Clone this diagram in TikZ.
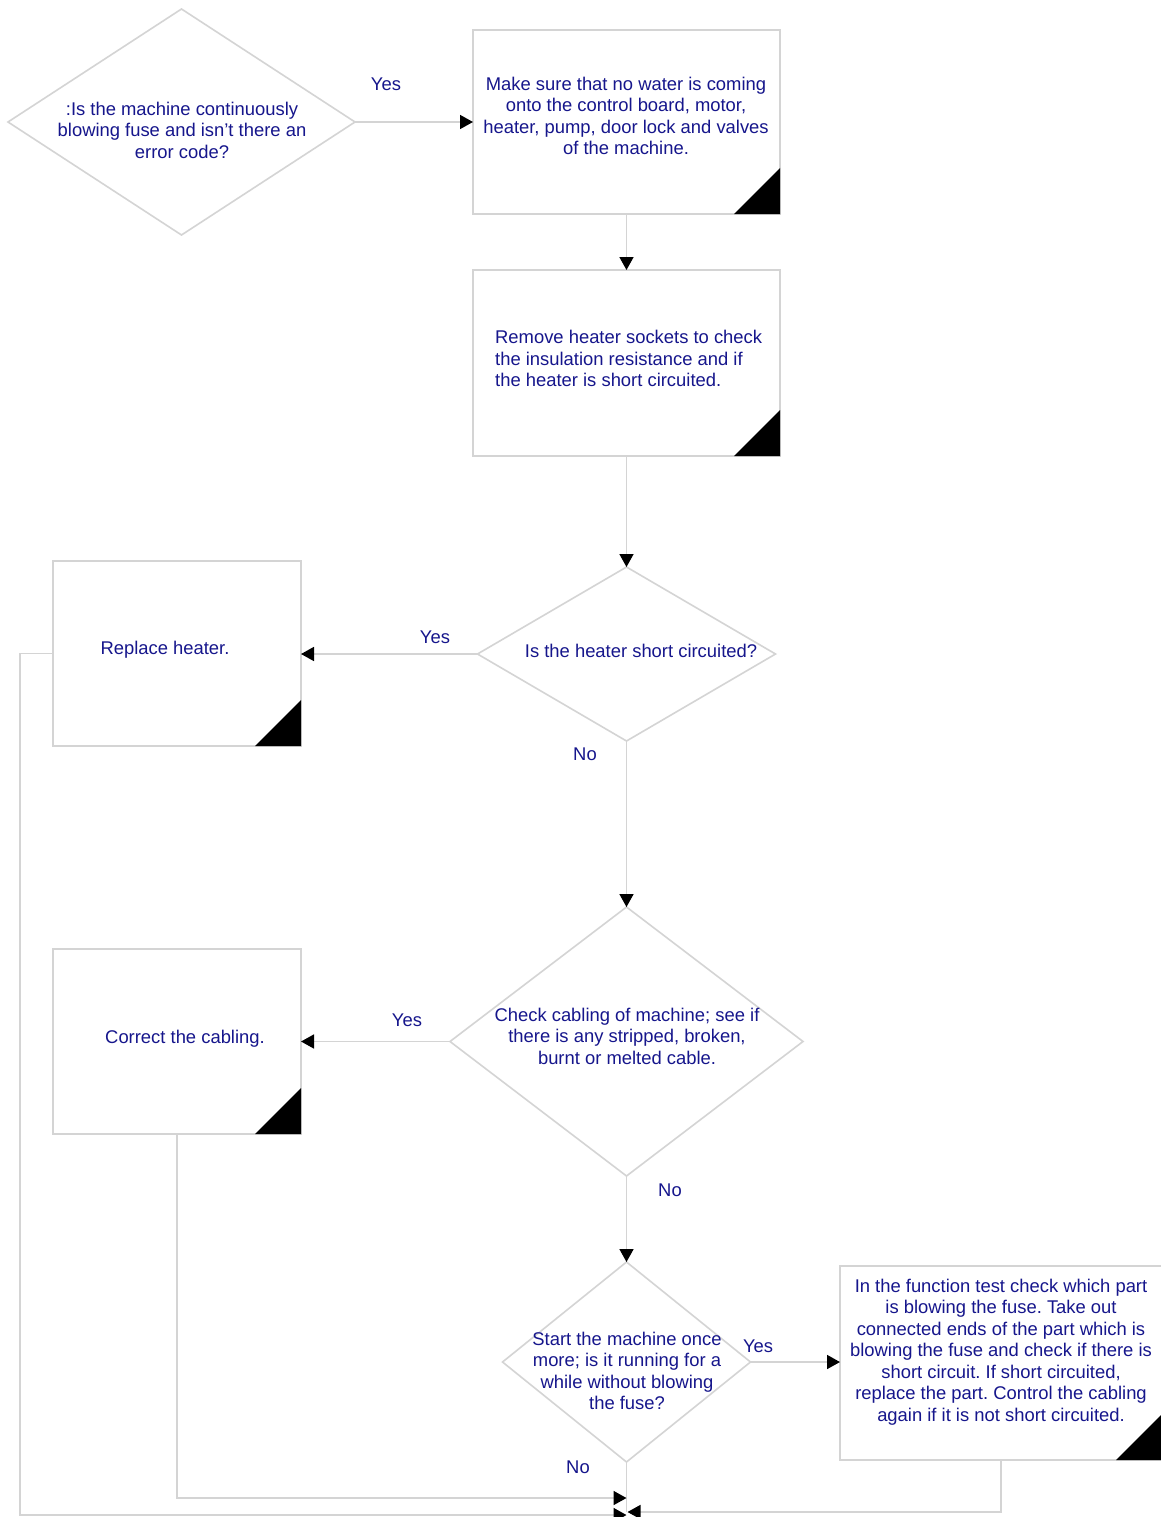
\documentclass[tikz,border=0pt]{standalone}
\usepackage{fontspec}
\setmainfont{Liberation Sans}
\usetikzlibrary{shapes.geometric,arrows.meta}
\definecolor{linegray}{RGB}{212,212,212}
\definecolor{textnavy}{RGB}{22,22,140}
\frenchspacing
\begin{document}
\begin{tikzpicture}[x=1pt,y=-1pt,
  flowline/.style={draw=linegray, line width=1.6pt},
  arr/.style={flowline, -{Triangle[length=13pt,width=14pt,color=black]}},
  stepbox/.style={flowline, rectangle, inner sep=0pt, outer sep=0pt},
  decision/.style={flowline, diamond, inner sep=0pt, outer sep=0pt},
  txt/.style={text=textnavy, font=\fontsize{18.4}{21.5}\selectfont, inner sep=0pt, align=center},
  corner/.style={fill=black}]
\useasboundingbox (0,0) rectangle (1160,1517);
\fill[white] (0,0) rectangle (1160,1517);

% ---- shapes ----
\node[decision, minimum width=347pt, minimum height=226pt] (d1) at (181.5,122) {};
\node[stepbox, minimum width=307pt, minimum height=184pt] (b1) at (626.5,122) {};
\node[stepbox, minimum width=307pt, minimum height=186pt] (b2) at (626.5,363) {};
\node[decision, minimum width=298pt, minimum height=174pt] (d2) at (626.5,654) {};
\node[stepbox, minimum width=248pt, minimum height=185pt] (b3) at (177,653.5) {};
\node[decision, minimum width=353pt, minimum height=269pt] (d3) at (626.5,1041.5) {};
\node[stepbox, minimum width=248pt, minimum height=185pt] (b4) at (177,1041.5) {};
\node[decision, minimum width=248pt, minimum height=200pt] (d4) at (626.5,1362) {};
\node[stepbox, minimum width=322pt, minimum height=194pt] (b5) at (1001,1363) {};

% ---- corner marks ----
\foreach \b in {b1,b2,b3,b4,b5}
  \fill[corner] (\b.south east) -- ++(-46,0) -- ++(46,-46) -- cycle;

% ---- texts ----
\node[txt] (t1) at (182,130) {:Is the machine continuously\\blowing fuse and isn’t there an\\error code?};
\node[txt] (t2) at (626,116) {Make sure that no water is coming\\onto the control board, motor,\\heater, pump, door lock and valves\\of the machine.};
\node[txt, align=left, anchor=west] (t3) at (495,358.5) {Remove heater sockets to check\\the insulation resistance and if\\the heater is short circuited.};
\node[txt] (t4) at (641,651) {Is the heater short circuited?};
\node[txt] (t5) at (165,650) {Replace heater.};
\node[txt] (t6) at (627,1036) {Check cabling of machine; see if\\there is any stripped, broken,\\burnt or melted cable.};
\node[txt] (t7) at (185,1039) {Correct the cabling.};
\node[txt] (t8) at (627,1371) {Start the machine once\\more; is it running for a\\while without blowing\\the fuse?};
\node[txt] (t9) at (1001,1352) {In the function test check which part\\is blowing the fuse. Take out\\connected ends of the part which is\\blowing the fuse and check if there is\\short circuit. If short circuited,\\replace the part. Control the cabling\\again if it is not short circuited.};

% ---- branch labels ----
\node[txt] (y1) at (386,84) {Yes};
\node[txt] (y2) at (435,637) {Yes};
\node[txt] (n2) at (585,754) {No};
\node[txt] (y3) at (407,1020) {Yes};
\node[txt] (n3) at (670,1190) {No};
\node[txt] (y4) at (758,1346) {Yes};
\node[txt] (n4) at (578,1467) {No};

% ---- connectors ----
\draw[arr] (d1.east) -- (d1.east -| b1.west);
\draw[arr] (b1.south) -- (b2.north);
\draw[arr] (b2.south) -- (d2.north);
\draw[arr] (d2.west) -- (d2.west -| b3.east);
\draw[arr] (d2.south) -- (d3.north);
\draw[arr] (d3.west) -- (d3.west -| b4.east);
\draw[arr] (d3.south) -- (d4.north);
\draw[arr] (d4.east) -- (d4.east -| b5.west);

% ---- returns to the common exit ----
\coordinate (exitA) at (626.5,1498);
\coordinate (exitB) at (626.5,1515);
\coordinate (exitC) at (627.5,1512);
\coordinate (leftrail) at (20,653.5);
\draw[flowline] (d4.south) -- (d4.south |- exitC);
\draw[arr] (b4.south) |- (exitA);
\draw[arr] (b3.west) -- (leftrail) |- (exitB);
\draw[arr] (b5.south) |- (exitC);
\end{tikzpicture}
\end{document}
